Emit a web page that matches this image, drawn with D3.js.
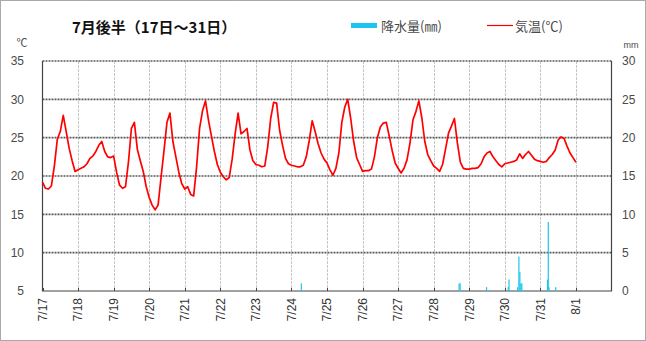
<!DOCTYPE html>
<html>
<head>
<meta charset="utf-8">
<script src="https://cdn.jsdelivr.net/npm/d3@7"></script>
<style>
  body { margin: 0; background: #fff; }
  svg { display: block; }
</style>
</head>
<body>
<svg id="chart" width="646" height="341"></svg>
<script>
// ---- data ----
const chartTitle = "7月後半（17日～31日）";
const rainLegend = "降水量(㎜)";
const tempLegend = "気温(℃)";

// day-of-month ticks along the time axis (32 = 8/1)
const dayTicks = [17, 18, 19, 20, 21, 22, 23, 24, 25, 26, 27, 28, 29, 30, 31, 32];
const tempTicks = [5, 10, 15, 20, 25, 30, 35];
const rainTicks = [0, 5, 10, 15, 20, 25, 30];

// air temperature (°C), every 2 hours from 7/17 00:00 to 8/1 00:00
const tempStepHours = 2;
const temperature = [
  19.2, 18.4, 18.3, 18.7, 21.3, 24.8, 25.8, 27.9, 25.8, 23.6, 22.0, 20.6, // 7/17
  20.8, 21.0, 21.2, 21.6, 22.3, 22.6, 23.2, 24.0, 24.5, 23.2, 22.5, 22.4, // 7/18
  22.6, 20.5, 18.8, 18.4, 18.6, 21.8, 26.2, 27.0, 23.5, 22.0, 20.6, 18.6, // 7/19
  17.2, 16.2, 15.6, 16.2, 19.8, 23.3, 27.0, 28.2, 24.5, 22.5, 20.5, 19.0, // 7/20
  18.3, 18.6, 17.6, 17.4, 21.2, 26.2, 28.5, 29.8, 27.3, 25.2, 23.2, 21.5, // 7/21
  20.5, 19.9, 19.5, 19.8, 22.2, 25.5, 28.2, 25.5, 25.8, 26.2, 23.4, 22.0, // 7/22
  21.5, 21.4, 21.2, 21.3, 23.8, 27.5, 29.6, 29.5, 26.0, 24.0, 22.3, 21.6, // 7/23
  21.4, 21.3, 21.2, 21.2, 21.4, 22.5, 24.6, 27.2, 25.8, 24.2, 23.0, 22.2, // 7/24
  21.7, 20.8, 20.1, 21.0, 23.0, 27.0, 29.0, 30.0, 27.5, 24.5, 22.4, 21.5, // 7/25
  20.6, 20.7, 20.7, 20.9, 22.5, 25.0, 26.4, 26.9, 27.0, 25.2, 23.3, 21.7, // 7/26
  21.0, 20.4, 21.0, 22.1, 24.3, 27.3, 28.4, 29.8, 27.6, 24.5, 22.8, 22.0, // 7/27
  21.3, 21.0, 20.6, 21.5, 23.5, 25.6, 26.5, 27.5, 24.3, 21.8, 21.0, 20.9, // 7/28
  20.9, 21.0, 21.0, 21.1, 21.6, 22.5, 23.0, 23.2, 22.5, 22.0, 21.5, 21.2, // 7/29
  21.6, 21.7, 21.8, 21.9, 22.1, 22.9, 22.3, 22.8, 23.2, 22.7, 22.2, 22.0, // 7/30
  21.9, 21.8, 21.9, 22.4, 22.8, 23.4, 24.7, 25.1, 24.9, 23.9, 23.0, 22.4, // 7/31
  21.8                                                                    // 8/1 00:00
];

// 10-minute precipitation (mm)
const rainTime = ["7/24 6:40", "7/28 17:10", "7/28 17:50", "7/29 11:40",
  "7/30 2:20", "7/30 2:50", "7/30 8:40", "7/30 9:30", "7/30 10:10",
  "7/30 10:50", "7/30 11:30", "7/31 4:50", "7/31 5:20", "7/31 5:50", "7/31 10:20"];
const rainMm = [1.0, 1.0, 1.0, 0.5, 0.5, 1.5, 0.5, 4.5, 2.5, 1.0, 1.0, 1.5, 9.0, 0.5, 0.5];

// ---- layout ----
const W = 646, H = 341;
const plot = { left: 42.5, right: 611.5, top: 61, bottom: 291 };
const labelFont = "'Liberation Sans', Arial, sans-serif";
const jpFont = "'Noto Sans CJK JP', 'Noto Sans', sans-serif";
const textGray = "#4a4a4a";

const svg = d3.select("#chart");

const x = d3.scaleLinear().domain([17, 33]).range([plot.left, plot.right]);
const yT = d3.scaleLinear().domain([5, 35]).range([plot.bottom, plot.top]);
const yR = d3.scaleLinear().domain([0, 30]).range([plot.bottom, plot.top]);

// outer frame
svg.append("rect")
  .attr("x", 0.5).attr("y", 0.5).attr("width", W - 1).attr("height", H - 1)
  .attr("fill", "#fff").attr("stroke", "#555").attr("stroke-dasharray", "1,1");

// vertical day grid
svg.append("g")
  .selectAll("line")
  .data(dayTicks.filter(d => d > 17))
  .join("line")
  .attr("x1", d => Math.round(x(d)) + 0.5).attr("x2", d => Math.round(x(d)) + 0.5)
  .attr("y1", plot.top).attr("y2", plot.bottom)
  .attr("stroke", "#c6c6c6").attr("stroke-dasharray", "3,1");

// horizontal temperature grid
svg.append("g")
  .selectAll("line")
  .data(tempTicks.filter(t => t > 5))
  .join("line")
  .attr("x1", plot.left).attr("x2", plot.right)
  .attr("y1", d => yT(d)).attr("y2", d => yT(d))
  .attr("stroke", "#5a5a5a").attr("stroke-width", 1.6).attr("stroke-dasharray", "2,1");

// left, right and bottom frame lines
svg.append("path")
  .attr("d", `M${plot.left},${plot.top}V${plot.bottom}H${plot.right}V${plot.top}`)
  .attr("fill", "none").attr("stroke", "#444").attr("stroke-width", 1.2);

// small day ticks inside the bottom edge
svg.append("g")
  .selectAll("line")
  .data(dayTicks)
  .join("line")
  .attr("x1", d => Math.round(x(d)) + 0.5).attr("x2", d => Math.round(x(d)) + 0.5)
  .attr("y1", plot.bottom - 3).attr("y2", plot.bottom)
  .attr("stroke", "#444");

// precipitation bars
const rainDay = rainTime.map(s => {
  const [md, hm] = s.split(" ");
  const [m, d] = md.split("/").map(Number);
  const [h, mi] = hm.split(":").map(Number);
  return (m === 8 ? 31 + d : d) + (h + mi / 60) / 24;
});
svg.append("g")
  .selectAll("rect")
  .data(rainMm)
  .join("rect")
  .attr("x", (v, i) => x(rainDay[i]) - 0.6)
  .attr("width", 1.2)
  .attr("y", v => yR(v))
  .attr("height", v => yR(0) - yR(v))
  .attr("fill", "#1cc6f0");

// temperature line
const line = d3.line()
  .x((v, i) => x(17 + i * tempStepHours / 24))
  .y(v => yT(v));
svg.append("path")
  .datum(temperature)
  .attr("d", line)
  .attr("fill", "none")
  .attr("stroke", "#ff0000")
  .attr("stroke-width", 1.7)
  .attr("stroke-linejoin", "round");

// left axis labels (°C)
svg.append("g")
  .selectAll("text")
  .data(tempTicks)
  .join("text")
  .attr("x", 24).attr("y", d => yT(d)).attr("dy", "0.36em")
  .attr("text-anchor", "end")
  .attr("font-family", labelFont).attr("font-size", 12).attr("fill", textGray)
  .text(d => d);

// right axis labels (mm)
svg.append("g")
  .selectAll("text")
  .data(rainTicks)
  .join("text")
  .attr("x", 622).attr("y", d => yR(d)).attr("dy", "0.36em")
  .attr("text-anchor", "start")
  .attr("font-family", labelFont).attr("font-size", 12).attr("fill", textGray)
  .text(d => d);

// axis units
svg.append("text")
  .attr("x", 22).attr("y", 47).attr("text-anchor", "middle")
  .attr("font-family", jpFont).attr("font-size", 11).attr("fill", textGray)
  .text("℃");
svg.append("text")
  .attr("x", 631).attr("y", 48).attr("text-anchor", "middle")
  .attr("font-family", labelFont).attr("font-size", 9).attr("fill", textGray)
  .text("mm");

// date labels, rotated
svg.append("g")
  .selectAll("text")
  .data(dayTicks)
  .join("text")
  .attr("transform", d => `translate(${x(d)},298) rotate(-90)`)
  .attr("dy", "0.36em")
  .attr("text-anchor", "end")
  .attr("font-family", labelFont).attr("font-size", 12).attr("fill", "#333")
  .text(d => d > 31 ? `8/${d - 31}` : `7/${d}`);

// title
svg.append("text")
  .attr("x", 72).attr("y", 33)
  .attr("font-family", jpFont).attr("font-size", 15).attr("font-weight", "bold")
  .attr("fill", "#111")
  .text(chartTitle);

// legend
svg.append("rect")
  .attr("x", 351).attr("y", 23).attr("width", 26).attr("height", 5)
  .attr("fill", "#1cc6f0");
svg.append("text")
  .attr("x", 381).attr("y", 31)
  .attr("font-family", jpFont).attr("font-size", 13).attr("fill", textGray)
  .text(rainLegend);
svg.append("line")
  .attr("x1", 487).attr("x2", 513).attr("y1", 25.5).attr("y2", 25.5)
  .attr("stroke", "#ff0000").attr("stroke-width", 1.2);
svg.append("text")
  .attr("x", 515).attr("y", 31)
  .attr("font-family", jpFont).attr("font-size", 13).attr("fill", textGray)
  .text(tempLegend);
</script>
</body>
</html>
